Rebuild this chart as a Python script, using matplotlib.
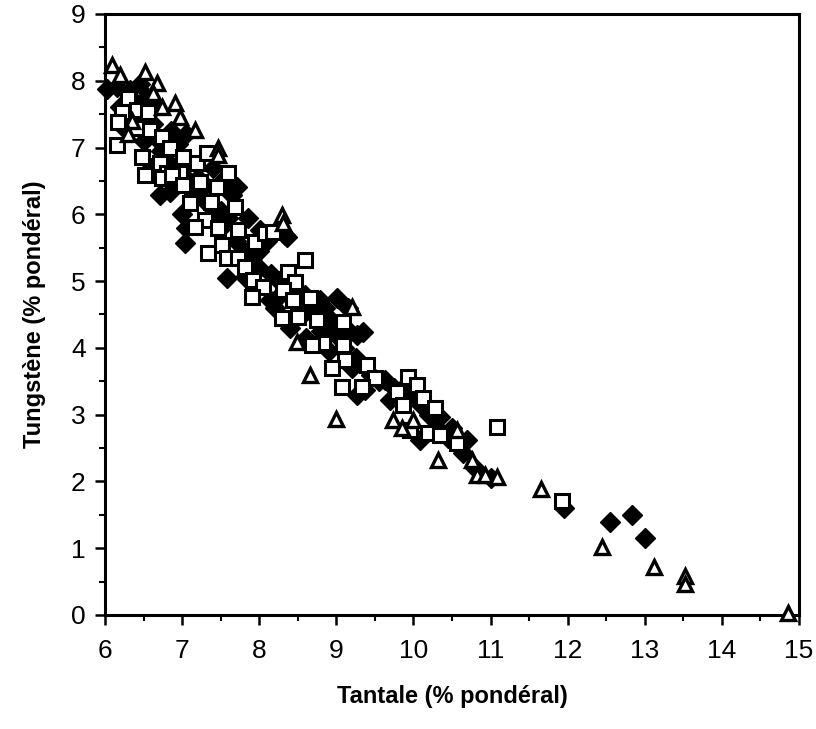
import numpy as np
import matplotlib.pyplot as plt
from matplotlib.ticker import MultipleLocator

plt.rcParams['font.family'] = ['Liberation Sans', 'DejaVu Sans']

# série 1 : losanges pleins
los_x = [6.03, 6.16, 6.32, 6.45, 6.38, 6.55, 6.65, 6.25, 6.50, 6.62, 6.85, 6.95,
         7.05, 6.72, 6.60, 6.90, 6.71, 6.84, 7.00, 7.05, 7.04, 7.15, 7.30, 7.40,
         7.55, 7.62, 7.65, 7.50, 7.60, 7.71, 7.85, 8.01, 8.10, 8.33, 8.36, 7.58,
         7.82, 8.00, 8.14, 8.27, 8.45, 8.59, 8.79, 9.01, 9.15, 8.20, 8.40, 8.60,
         8.95, 9.18, 9.27, 9.35, 8.90, 9.20, 9.27, 9.37, 9.63, 9.83, 9.70, 10.00,
         10.09, 10.35, 10.64, 10.70, 10.50, 10.20,
         6.20, 6.40, 6.70, 6.80, 7.00, 7.20, 7.30, 7.40, 7.55, 7.70, 7.80, 7.90,
         8.00, 8.15, 8.25, 8.35, 8.50, 8.60, 8.70, 8.80, 8.85, 9.00, 9.10, 9.25,
         9.45, 9.55, 9.75, 9.90, 10.10, 10.30, 10.45, 10.80, 11.00,
         11.95, 12.55, 12.83, 13.00]
los_y = [7.88, 7.90, 7.86, 7.95, 7.70, 7.75, 7.60, 7.30, 7.10, 7.35, 7.25, 7.05,
         7.20, 6.95, 6.70, 6.45, 6.29, 6.33, 6.00, 5.80, 5.57, 6.30, 6.44, 6.70,
         6.55, 6.44, 6.29, 6.05, 5.95, 6.41, 5.95, 5.76, 5.60, 5.69, 5.66, 5.04,
         5.06, 5.20, 4.72, 4.79, 4.85, 4.79, 4.72, 4.75, 4.60, 4.60, 4.30, 4.15,
         4.40, 4.24, 4.19, 4.24, 3.95, 3.70, 3.29, 3.37, 3.52, 3.30, 3.22, 3.30,
         2.62, 2.96, 2.43, 2.62, 2.80, 3.00,
         7.60, 7.50, 7.10, 6.80, 6.60, 6.55, 6.20, 6.00, 5.85, 5.60, 5.45, 5.35,
         5.45, 5.10, 5.00, 4.90, 4.65, 4.55, 4.50, 4.25, 4.60, 4.20, 4.00, 3.85,
         3.60, 3.50, 3.40, 3.45, 3.15, 2.80, 2.65, 2.20, 2.05,
         1.60, 1.39, 1.49, 1.15]

# série 2 : carrés vides
car_x = [6.30, 6.22, 6.41, 6.56, 6.17, 6.41, 6.58, 6.16, 6.74, 6.48, 6.84, 6.71,
         7.01, 7.19, 6.52, 6.80, 6.97, 7.32, 6.74, 6.87, 7.01, 7.23, 7.60, 7.45,
         7.10, 7.38, 7.69, 7.30, 7.17, 7.47, 7.73, 7.52, 7.34, 7.58, 7.73, 7.95,
         8.08, 8.18, 7.82, 8.59, 8.37, 7.92, 8.05, 8.46, 7.91, 8.31, 8.44, 8.66,
         8.30, 8.50, 8.75, 9.09, 8.83, 9.08, 8.68, 9.11, 8.94, 9.40, 9.50, 9.07,
         9.33, 9.79, 9.93, 10.05, 10.12, 10.28, 9.87, 9.96, 10.19, 10.35, 10.57,
         11.08, 11.93]
car_y = [7.74, 7.53, 7.56, 7.53, 7.38, 7.29, 7.26, 7.04, 7.16, 6.86, 6.99, 6.77,
         6.86, 6.77, 6.59, 6.62, 6.62, 6.92, 6.54, 6.59, 6.44, 6.48, 6.62, 6.41,
         6.17, 6.18, 6.11, 5.91, 5.81, 5.79, 5.76, 5.54, 5.42, 5.34, 5.34, 5.58,
         5.72, 5.73, 5.21, 5.31, 5.13, 5.01, 4.91, 4.99, 4.76, 4.87, 4.72, 4.75,
         4.45, 4.46, 4.42, 4.39, 4.07, 4.04, 4.04, 3.82, 3.70, 3.74, 3.55, 3.41,
         3.41, 3.34, 3.56, 3.44, 3.25, 3.10, 3.14, 2.77, 2.72, 2.69, 2.57,
         2.82, 1.70]

# série 3 : triangles vides
tri_x = [6.09, 6.20, 6.52, 6.67, 6.62, 6.74, 6.91, 6.97, 7.17, 7.47, 7.47, 6.35,
         6.30, 8.30, 8.31, 9.20, 8.49, 8.66, 9.00, 9.73, 9.99, 9.85, 10.32, 10.57,
         10.76, 10.82, 10.93, 11.08, 11.65, 12.45, 13.12, 13.52, 13.52, 14.86]
tri_y = [8.23, 8.08, 8.13, 7.96, 7.81, 7.60, 7.66, 7.46, 7.26, 7.00, 6.89, 7.40,
         7.20, 5.99, 5.87, 4.61, 4.09, 3.59, 2.94, 2.92, 2.92, 2.80, 2.32, 2.77,
         2.32, 2.10, 2.10, 2.07, 1.88, 1.02, 0.72, 0.58, 0.46, 0.03]

fig = plt.figure(figsize=(8.16, 7.29), dpi=100)
ax = fig.add_axes([0.1287, 0.1564, 0.8505, 0.8244])

ax.plot(los_x, los_y, linestyle='none', marker='D', ms=10.5,
        mfc='black', mec='black', mew=1.0, zorder=2, clip_on=False)
ax.plot(car_x, car_y, linestyle='none', marker='s', ms=9.5,
        mfc='white', mec='black', mew=2.2, zorder=3, clip_on=False)
ax.plot(tri_x, tri_y, linestyle='none', marker='^', ms=10.5,
        mfc='white', mec='black', mew=2.4, zorder=4, clip_on=False)

ax.set_xlim(6, 15)
ax.set_ylim(0, 9)
ax.xaxis.set_major_locator(MultipleLocator(1))
ax.xaxis.set_minor_locator(MultipleLocator(0.5))
ax.yaxis.set_major_locator(MultipleLocator(1))
ax.yaxis.set_minor_locator(MultipleLocator(0.5))
ax.tick_params(which='major', direction='out', length=7, width=1.8,
               labelsize=19, pad=7)
ax.tick_params(axis='x', which='major', pad=10)
ax.tick_params(which='minor', direction='out', length=4, width=1.5)
for s in ax.spines.values():
    s.set_linewidth(2.2)

ax.set_xlabel('Tantale (% pondéral)', fontsize=17, fontweight='bold', labelpad=16)
ax.set_ylabel('Tungstène (% pondéral)', fontsize=17, fontweight='bold', labelpad=18)

fig.savefig('out.png', dpi=100)
